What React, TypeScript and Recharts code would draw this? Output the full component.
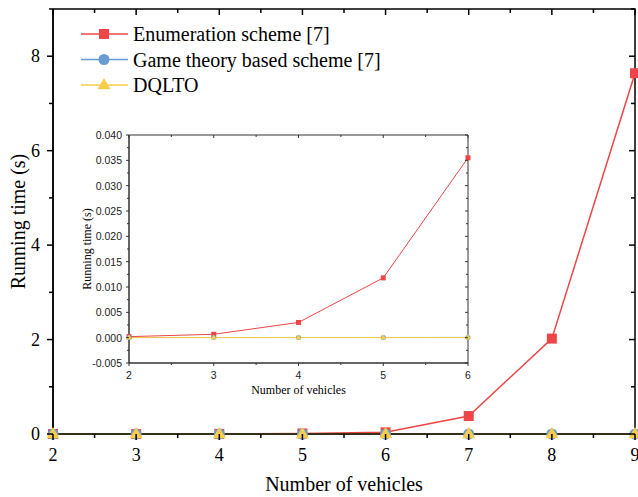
import { LineChart, Line, XAxis, YAxis, ReferenceArea } from 'recharts';

const vehicles = [2, 3, 4, 5, 6, 7, 8, 9];
const enumeration = [0.0002, 0.00067, 0.003, 0.0118, 0.0355, 0.38, 2.02, 7.64];
const gameTheory = [0.00002, 0.00003, 0.00003, 0.00004, 0.00005, 0.00006, 0.00008, 0.0001];
const dqlto = [0.00001, 0.00001, 0.00002, 0.00002, 0.00002, 0.00003, 0.00003, 0.00004];

const seriesNames = ['Enumeration scheme [7]', 'Game theory based scheme [7]', 'DQLTO'];

const mainXTicks = [2, 2.5, 3, 3.5, 4, 4.5, 5, 5.5, 6, 6.5, 7, 7.5, 8, 8.5, 9];
const mainYTicks = [0, 1, 2, 3, 4, 5, 6, 7, 8, 9];
const insetXTicks = [2, 2.5, 3, 3.5, 4, 4.5, 5, 5.5, 6];
const insetYTicks = [
  -0.005, -0.0025, 0, 0.0025, 0.005, 0.0075, 0.01, 0.0125, 0.015, 0.0175, 0.02,
  0.0225, 0.025, 0.0275, 0.03, 0.0325, 0.035, 0.0375, 0.04,
];

const RED = '#EE4646';
const BLUE = '#6A9BD2';
const YELLOW = '#F8CD4A';
const SERIF = '"Liberation Serif", "Times New Roman", serif';
const SANS = '"Liberation Sans", Arial, sans-serif';

const data = vehicles.map((v, i) => ({
  v,
  enumeration: enumeration[i],
  gameTheory: gameTheory[i],
  dqlto: dqlto[i],
}));
const insetData = data.filter((d) => d.v <= 6);

// chart layout
const W = 638;
const H = 497;
const M = { top: 9, right: 3, left: 0, bottom: 0 };
const IW = 400;
const IH = 280;
const IM = { top: 10, right: 12, left: 0, bottom: 0 };

const Marker = ({ kind, cx, cy, size, color }: any) => {
  if (cx == null || cy == null) return null;
  if (kind === 'square')
    return <rect x={cx - size / 2} y={cy - size / 2} width={size} height={size} fill={color} />;
  if (kind === 'circle') return <circle cx={cx} cy={cy} r={size / 2} fill={color} />;
  const h = size * 0.87;
  return (
    <polygon
      points={`${cx},${cy - h * 0.62} ${cx - size / 2},${cy + h * 0.38} ${cx + size / 2},${cy + h * 0.38}`}
      fill={color}
    />
  );
};

const dotFor = (kind: string, size: number, color: string) => (p: any) =>
  <Marker key={`${kind}-${p.index}`} kind={kind} cx={p.cx} cy={p.cy} size={size} color={color} />;

const MainXTick = ({ x, y, payload }: any) => {
  const v = payload.value;
  const major = Number.isInteger(v);
  const len = major ? 6 : 4;
  return (
    <g>
      <line x1={x} x2={x} y1={y} y2={y + len} stroke="#000" strokeWidth={1.5} />
      <line x1={x} x2={x} y1={M.top} y2={M.top + len} stroke="#000" strokeWidth={1.5} />
      {major && (
        <text x={x} y={y + 27} textAnchor="middle" fontFamily={SERIF} fontSize={18} fill="#000">
          {v}
        </text>
      )}
    </g>
  );
};

const MainYTick = ({ x, y, payload }: any) => {
  const v = payload.value;
  const major = v % 2 === 0;
  const len = major ? 6 : 4;
  const right = W - M.right;
  return (
    <g>
      <line x1={x - len} x2={x} y1={y} y2={y} stroke="#000" strokeWidth={1.5} />
      <line x1={right - len} x2={right} y1={y} y2={y} stroke="#000" strokeWidth={1.5} />
      {major && (
        <text x={x - 13} y={y + 6} textAnchor="end" fontFamily={SERIF} fontSize={18} fill="#000">
          {v}
        </text>
      )}
    </g>
  );
};

const InsetXTick = ({ x, y, payload }: any) => {
  const v = payload.value;
  const major = Number.isInteger(v);
  const len = major ? 3 : 2;
  return (
    <g>
      <line x1={x} x2={x} y1={y} y2={y + len} stroke="#333" strokeWidth={1} />
      <line x1={x} x2={x} y1={IM.top} y2={IM.top + len} stroke="#333" strokeWidth={1} />
      {major && (
        <text x={x} y={y + 16} textAnchor="middle" fontFamily={SANS} fontSize={10.5} fill="#222">
          {v}
        </text>
      )}
    </g>
  );
};

const InsetYTick = ({ x, y, payload }: any) => {
  const v = payload.value;
  const major = Math.abs(Math.round(v * 1000 / 5) - (v * 1000) / 5) < 1e-6;
  const len = major ? 3 : 2;
  const right = IW - IM.right;
  return (
    <g>
      <line x1={x - len} x2={x} y1={y} y2={y} stroke="#333" strokeWidth={1} />
      <line x1={right - len} x2={right} y1={y} y2={y} stroke="#333" strokeWidth={1} />
      {major && (
        <text x={x - 7} y={y + 4} textAnchor="end" fontFamily={SANS} fontSize={10.5} fill="#222">
          {v.toFixed(3)}
        </text>
      )}
    </g>
  );
};

const axisLabel = (text: string, dx: number, dy: number, size: number, vertical: boolean) =>
  ({ viewBox }: any) => {
    const { x, y, width, height } = viewBox;
    const cx = vertical ? x + dx : x + width / 2;
    const cy = vertical ? y + height / 2 : y + dy;
    return (
      <text
        x={cx}
        y={cy}
        textAnchor="middle"
        fontFamily={SERIF}
        fontSize={size}
        fill="#000"
        transform={vertical ? `rotate(-90 ${cx} ${cy})` : undefined}
      >
        {text}
      </text>
    );
  };

const kinds = ['square', 'circle', 'triangle'];
const colors = [RED, BLUE, YELLOW];
const keys = ['enumeration', 'gameTheory', 'dqlto'];

export default function App() {
  return (
    <div style={{ position: 'absolute', left: 0, top: 0, width: W, height: H, background: '#fff' }}>
      <LineChart width={W} height={H} data={data} margin={M}>
        <XAxis
          dataKey="v"
          type="number"
          domain={[2, 9]}
          ticks={mainXTicks}
          interval={0}
          tickSize={0}
          tickMargin={0}
          tickLine={false}
          height={63}
          axisLine={{ stroke: '#000', strokeWidth: 1.5 }}
          tick={<MainXTick />}
          label={axisLabel('Number of vehicles', 0, 57, 20, false)}
        />
        <YAxis
          type="number"
          domain={[0, 9]}
          ticks={mainYTicks}
          interval={0}
          tickSize={0}
          tickMargin={0}
          tickLine={false}
          width={53}
          axisLine={{ stroke: '#000', strokeWidth: 1.5 }}
          tick={<MainYTick />}
          label={axisLabel('Running time (s)', 25, 0, 20, true)}
        />
        <ReferenceArea x1={2} x2={9} y1={0} y2={9} fill="none" stroke="#000" strokeWidth={1.5} ifOverflow="visible" />
        {keys.map((k, i) => (
          <Line
            key={k}
            dataKey={k}
            name={seriesNames[i]}
            stroke={colors[i]}
            strokeWidth={1.5}
            dot={dotFor(kinds[i], i === 2 ? 13 : i === 1 ? 11 : 10, colors[i])}
            activeDot={false}
            isAnimationActive={false}
          />
        ))}
      </LineChart>

      <svg style={{ position: 'absolute', left: 78, top: 20 }} width={320} height={85}>
        {seriesNames.map((name, i) => {
          const cy = 14 + i * 25.5;
          return (
            <g key={name}>
              <line x1={3} x2={50} y1={cy} y2={cy} stroke={colors[i]} strokeWidth={1.5} />
              <Marker kind={kinds[i]} cx={26} cy={cy} size={i === 2 ? 13 : i === 1 ? 11 : 10} color={colors[i]} />
              <text x={55} y={cy + 7} fontFamily={SERIF} fontSize={20} fill="#000">
                {name}
              </text>
            </g>
          );
        })}
      </svg>

      <div style={{ position: 'absolute', left: 80, top: 125 }}>
        <LineChart width={IW} height={IH} data={insetData} margin={IM}>
          <XAxis
            dataKey="v"
            type="number"
            domain={[2, 6]}
            ticks={insetXTicks}
            interval={0}
            tickSize={0}
            tickMargin={0}
            tickLine={false}
            height={42}
            axisLine={{ stroke: '#333', strokeWidth: 1 }}
            tick={<InsetXTick />}
            label={axisLabel('Number of vehicles', 0, 31, 12, false)}
          />
          <YAxis
            type="number"
            domain={[-0.005, 0.04]}
            ticks={insetYTicks}
            interval={0}
            tickSize={0}
            tickMargin={0}
            tickLine={false}
            width={49}
            axisLine={{ stroke: '#333', strokeWidth: 1 }}
            tick={<InsetYTick />}
            label={axisLabel('Running time (s)', 11, 0, 12, true)}
          />
          <ReferenceArea x1={2} x2={6} y1={-0.005} y2={0.04} fill="none" stroke="#333" strokeWidth={1} ifOverflow="visible" />
          {keys.map((k, i) => (
            <Line
              key={k}
              dataKey={k}
              stroke={colors[i]}
              strokeWidth={1}
              dot={dotFor(kinds[i], i === 2 ? 6 : 5, colors[i])}
              activeDot={false}
              isAnimationActive={false}
            />
          ))}
        </LineChart>
      </div>
    </div>
  );
}
